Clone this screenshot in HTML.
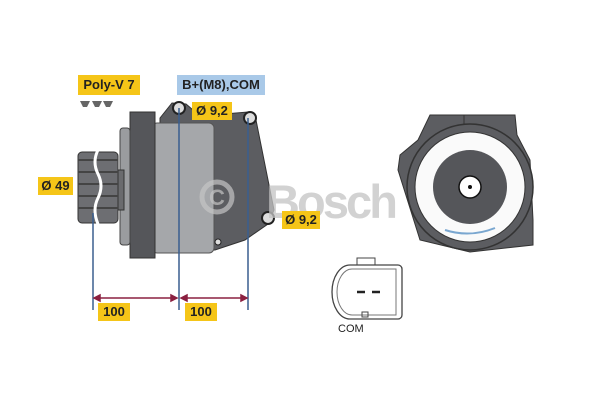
<!DOCTYPE html>
<html><head><style>
body{margin:0;width:600px;height:400px;background:#fff;overflow:hidden;position:relative;font-family:"Liberation Sans",sans-serif}
.lb{position:absolute;background:#f5c518;font-weight:bold;font-size:13px;color:#222;line-height:18px;text-align:center}
</style></head><body>
<svg width="600" height="400" style="position:absolute;left:0;top:0">
<polygon points="160,118 172,103 186,104 200,116 248,112 256,120 274,210 268,224 245,240 215,250 160,250" fill="#5c5d61" stroke="#333" stroke-width="1"/>
<rect x="152" y="123" width="62" height="130" rx="5" fill="#a5a7aa" stroke="#555"/>
<rect x="130" y="112" width="25" height="146" fill="#55565a" stroke="#333"/>
<rect x="120" y="128" width="10" height="117" rx="3" fill="#9a9c9f" stroke="#444"/>
<rect x="118" y="170" width="6" height="40" fill="#6a6b6e" stroke="#333"/>
<rect x="78" y="152" width="40" height="71" rx="4" fill="#6d6e72" stroke="#333"/>
<path d="M78,160 h40 M78,172 h40 M78,184 h40 M78,196 h40 M78,208 h40" stroke="#444" stroke-width="2"/>
<path d="M98,150 q-6,12 0,24 q6,12 0,24 q-6,12 0,26" stroke="#fff" stroke-width="3" fill="none"/>
<circle cx="179" cy="108" r="6" fill="#ddd" stroke="#222" stroke-width="2"/>
<circle cx="250" cy="118" r="6" fill="#ddd" stroke="#222" stroke-width="2"/>
<circle cx="268" cy="218" r="6" fill="#ddd" stroke="#222" stroke-width="2"/>
<circle cx="218" cy="242" r="3" fill="#ddd" stroke="#222"/>
<circle cx="217" cy="197" r="15" fill="none" stroke="#c4c4c4" stroke-width="5" opacity="0.7"/>
<text x="217" y="205" font-size="22" font-weight="bold" fill="#c4c4c4" text-anchor="middle" font-family="Liberation Sans" opacity="0.7">C</text>
<text x="266" y="218" font-size="47" font-weight="bold" fill="#c4c4c4" font-family="Liberation Sans" opacity="0.75" textLength="132">Bosch</text>
<g stroke="#3a5f8f" stroke-width="1.5">
<line x1="93" y1="213" x2="93" y2="310"/>
<line x1="179" y1="108" x2="179" y2="310"/>
<line x1="248" y1="118" x2="248" y2="310"/>
</g>
<g stroke="#8b2040" stroke-width="1.5" fill="#8b2040">
<line x1="96" y1="298" x2="176" y2="298"/>
<line x1="182" y1="298" x2="245" y2="298"/>
<polygon points="94,298 100,295 100,301"/><polygon points="177,298 171,295 171,301"/>
<polygon points="181,298 187,295 187,301"/><polygon points="247,298 241,295 241,301"/>
</g>
<path d="M80,101 h10 l-3,6 h-4 z M92,101 h10 l-3,6 h-4 z M103,101 h10 l-3,6 h-4 z" fill="#666"/>
<polygon points="430,115 515,115 517,135 530,160 533,220 533,245 470,252 420,240 398,170 400,155 418,140" fill="#5c5d61" stroke="#333"/>
<line x1="464" y1="115" x2="464" y2="125" stroke="#333"/>
<circle cx="470" cy="187" r="63" fill="#5c5d61" stroke="#333" stroke-width="1.5"/>
<circle cx="470" cy="187" r="55" fill="#fafafa" stroke="#333"/>
<circle cx="470" cy="187" r="37" fill="#55565a"/>
<circle cx="470" cy="187" r="11" fill="#fff" stroke="#111" stroke-width="1.5"/>
<circle cx="470" cy="187" r="2" fill="#111"/>
<path d="M445,230 q25,8 50,-2" stroke="#7aa7d0" stroke-width="2" fill="none"/>
<rect x="357" y="258" width="18" height="8" fill="#fff" stroke="#444"/>
<path d="M350,265 h48 a4,4 0 0 1 4,4 v46 a4,4 0 0 1 -4,4 h-48 a18,27 0 0 1 0,-54 z" fill="#fff" stroke="#444" stroke-width="1.3"/>
<path d="M352,269 h44 v46 h-44 a15,23 0 0 1 0,-46 z" fill="none" stroke="#777"/>
<path d="M357,292 h8 M372,292 h8" stroke="#222" stroke-width="2.5"/>
<rect x="362" y="312" width="6" height="5" fill="none" stroke="#444"/>
<text x="338" y="332" font-size="11" fill="#222" font-family="Liberation Sans">COM</text>
</svg>
<div class="lb" style="left:78px;top:75px;width:62px;height:20px;line-height:20px">Poly-V 7</div>
<div class="lb" style="left:177px;top:75px;width:88px;height:20px;line-height:20px;background:#a9c9e8">B+(M8),COM</div>
<div class="lb" style="left:192px;top:102px;width:40px;height:18px">Ø 9,2</div>
<div class="lb" style="left:282px;top:211px;width:38px;height:18px">Ø 9,2</div>
<div class="lb" style="left:38px;top:177px;width:35px;height:18px">Ø 49</div>
<div class="lb" style="left:98px;top:303px;width:32px;height:18px">100</div>
<div class="lb" style="left:185px;top:303px;width:32px;height:18px">100</div>
</body></html>
